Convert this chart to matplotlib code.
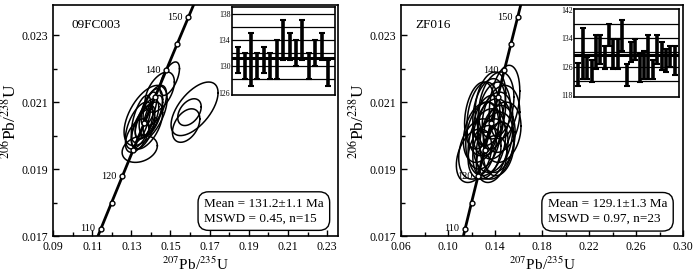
import numpy as np
import matplotlib.pyplot as plt

plt.rcParams['font.family'] = ['Liberation Serif', 'DejaVu Serif']
plt.rcParams['mathtext.fontset'] = 'stix'

# decay constants (per Ma)
lam238 = 1.55125e-4
lam235 = 9.8485e-4

conc_ages = [110, 115, 120, 125, 130, 135, 140, 145, 150]
conc_labels = [110, 120, 140, 150]

# 09FC003 ellipses: centre x, centre y, half-width x, half-height y, rho
a_cx = [0.1496, 0.1445, 0.1373, 0.1343, 0.1340, 0.1380, 0.1400, 0.1370, 0.1410,
        0.1360, 0.1390, 0.1350, 0.1420, 0.1330, 0.1380, 0.1623, 0.1597, 0.1580]
a_cy = [0.0217, 0.0213, 0.0206, 0.0196, 0.0203, 0.0205, 0.0207, 0.0204, 0.0206,
        0.0202, 0.0208, 0.0205, 0.0209, 0.0200, 0.0203, 0.0208, 0.0207, 0.0203]
a_ex = [0.0050, 0.0075, 0.0110, 0.0090, 0.0070, 0.0060, 0.0060, 0.0050, 0.0050,
        0.0060, 0.0040, 0.0050, 0.0060, 0.0060, 0.0080, 0.0120, 0.0060, 0.0070]
a_ey = [0.0005, 0.0006, 0.0009, 0.0004, 0.0007, 0.0006, 0.0007, 0.0005, 0.0006,
        0.0006, 0.0005, 0.0007, 0.0006, 0.0005, 0.0007, 0.0008, 0.0004, 0.0005]
a_rho = [0.6, 0.5, 0.55, 0.25, 0.55, 0.6, 0.55, 0.6, 0.65,
         0.55, 0.6, 0.6, 0.55, 0.5, 0.55, 0.6, 0.4, 0.4]

# ZF016 ellipses
b_cx = [0.148, 0.141, 0.135, 0.130, 0.125, 0.122, 0.133, 0.138, 0.140, 0.145, 0.136, 0.130,
        0.142, 0.134, 0.128, 0.139, 0.146, 0.131, 0.137, 0.143, 0.136, 0.127, 0.140]
b_cy = [0.0210, 0.0209, 0.0207, 0.0205, 0.0196, 0.0194, 0.0198, 0.0200, 0.0203, 0.0205, 0.0196, 0.0200,
        0.0199, 0.0203, 0.0201, 0.0206, 0.0201, 0.0195, 0.0193, 0.0196, 0.0210, 0.0206, 0.0197]
b_ex = [0.013, 0.015, 0.014, 0.014, 0.016, 0.015, 0.016, 0.017, 0.015, 0.016, 0.015, 0.015,
        0.015, 0.013, 0.015, 0.014, 0.016, 0.014, 0.013, 0.013, 0.013, 0.013, 0.016]
b_ey = [0.0011, 0.0010, 0.0010, 0.0011, 0.0009, 0.0008, 0.0010, 0.0011, 0.0010, 0.0010, 0.0009, 0.0010,
        0.0010, 0.0009, 0.0009, 0.0010, 0.0009, 0.0008, 0.0007, 0.0008, 0.0009, 0.0010, 0.0010]
b_rho = [0.3, 0.25, 0.25, 0.2, 0.3, 0.35, 0.25, 0.2, 0.25, 0.2, 0.25, 0.25,
         0.2, 0.25, 0.3, 0.25, 0.2, 0.25, 0.25, 0.2, 0.3, 0.25, 0.25]

# weighted mean insets (age ranges, Ma)
a_lo = [129, 128, 127, 128, 129, 128, 128, 131, 131, 130, 131, 128, 130, 131, 127]
a_hi = [133, 132, 135, 132, 133, 132, 134, 137, 135, 134, 137, 132, 134, 135, 131]
a_mean = 131.2
b_lo = [120.6, 122.5, 122.5, 121.6, 125.3, 126.8, 125.3, 131.9, 125.3, 125.3, 130.5, 120.6,
        127.2, 127.7, 121.6, 122.5, 122.5, 122.5, 126.8, 124.9, 124.4, 125.8, 123.5]
b_hi = [126.9, 136.9, 128.6, 127.7, 135.0, 135.0, 131.9, 138.0, 133.8, 133.8, 139.0, 126.8,
        132.9, 133.8, 129.6, 130.5, 135.0, 127.7, 135.0, 132.9, 131.0, 131.9, 131.9]
b_mean = 129.1


def concordia(ax):
    t = np.linspace(100, 170, 300)
    ax.plot(np.exp(lam235 * t) - 1, np.exp(lam238 * t) - 1, color='black', lw=2, zorder=3)
    ta = np.array(conc_ages)
    ax.plot(np.exp(lam235 * ta) - 1, np.exp(lam238 * ta) - 1, 'o', ms=3.5,
            mfc='white', mec='black', mew=1, zorder=4)
    for a in conc_labels:
        ax.annotate(str(a), (np.exp(lam235 * a) - 1, np.exp(lam238 * a) - 1),
                    xytext=(-4, 0), textcoords='offset points', ha='right', va='center',
                    fontsize=7.5, zorder=5)


def ellipses(ax, cx, cy, ex, ey, rho):
    t = np.linspace(0, 2 * np.pi, 200)
    for i in range(len(cx)):
        x = cx[i] + ex[i] * np.cos(t)
        y = cy[i] + ey[i] * (rho[i] * np.cos(t) + np.sqrt(1 - rho[i] ** 2) * np.sin(t))
        ax.plot(x, y, color='black', lw=1.1, zorder=2)


def inset(fig, rect, lo, hi, mean, ylim, grid, labels):
    ax = fig.add_axes(rect)
    for g in grid:
        ax.axhline(g, color='black', lw=0.9, zorder=1)
    ax.axhline(mean, color='black', lw=2.2, zorder=1)
    lo = np.array(lo)
    hi = np.array(hi)
    xs = np.arange(1, len(lo) + 1)
    ax.errorbar(xs, (lo + hi) / 2, yerr=(hi - lo) / 2, fmt='none', ecolor='black',
                elinewidth=2.6, capsize=2, capthick=1.5, zorder=3)
    ax.set_xlim(0, len(lo) + 1)
    ax.set_ylim(*ylim)
    ax.set_xticks([])
    ax.set_yticks(labels)
    ax.tick_params(axis='y', length=0, labelsize=5.5, pad=1)
    for s in ax.spines.values():
        s.set_linewidth(1.2)
    return ax


def style(ax, xticks, xlim):
    ax.set_xlim(*xlim)
    ax.set_ylim(0.017, 0.0239)
    ax.set_xticks(xticks)
    ax.set_xticks(np.arange(xticks[0], xticks[-1] + 1e-9, (xticks[1] - xticks[0]) / 2), minor=True)
    ax.set_yticks([0.017, 0.019, 0.021, 0.023])
    ax.set_yticks([0.018, 0.020, 0.022], minor=True)
    ax.set_xticklabels(['%.2f' % v for v in xticks])
    ax.set_yticklabels(['0.017', '0.019', '0.021', '0.023'])
    ax.tick_params(direction='in', labelsize=8.5, length=4, width=1)
    ax.tick_params(which='minor', direction='in', length=3, width=1)
    for s in ax.spines.values():
        s.set_linewidth(1.2)
    ax.set_xlabel('$^{207}$Pb/$^{235}$U', fontsize=11, labelpad=2)
    ax.set_ylabel('$^{206}$Pb/$^{238}$U', fontsize=12.5, labelpad=1)


box = dict(boxstyle='round,pad=0.45,rounding_size=0.8', fc='white', ec='black', lw=1)

fig = plt.figure(figsize=(7, 2.79), dpi=100)

ax1 = fig.add_axes([0.0757, 0.154, 0.407, 0.828])
ellipses(ax1, a_cx, a_cy, a_ex, a_ey, a_rho)
concordia(ax1)
style(ax1, [0.09, 0.11, 0.13, 0.15, 0.17, 0.19, 0.21, 0.23], (0.09, 0.2355))
ax1.text(0.066, 0.913, '09FC003', transform=ax1.transAxes, fontsize=9.5, va='center')
ax1.text(0.53, 0.108, 'Mean = 131.2\u00b11.1 Ma\nMSWD = 0.45, n=15', transform=ax1.transAxes,
         ha='left', va='center', fontsize=9.5, linespacing=1.3, bbox=box)
inset(fig, [0.331, 0.659, 0.147, 0.315], a_lo, a_hi, a_mean, (125.6, 139),
      [128, 130, 132, 134, 136, 138], [126, 130, 134, 138])

ax2 = fig.add_axes([0.573, 0.154, 0.403, 0.828])
ellipses(ax2, b_cx, b_cy, b_ex, b_ey, b_rho)
concordia(ax2)
style(ax2, [0.06, 0.10, 0.14, 0.18, 0.22, 0.26, 0.30], (0.06, 0.30))
ax2.text(0.05, 0.913, 'ZF016', transform=ax2.transAxes, fontsize=9.5, va='center')
ax2.text(0.52, 0.105, 'Mean = 129.1\u00b11.3 Ma\nMSWD = 0.97, n=23', transform=ax2.transAxes,
         ha='left', va='center', fontsize=9.5, linespacing=1.3, bbox=box)
inset(fig, [0.82, 0.652, 0.15, 0.316], b_lo, b_hi, b_mean, (117.4, 142.2),
      [122, 126, 130, 134, 138], [118, 126, 134, 142])

fig.savefig('out.png', dpi=100)
